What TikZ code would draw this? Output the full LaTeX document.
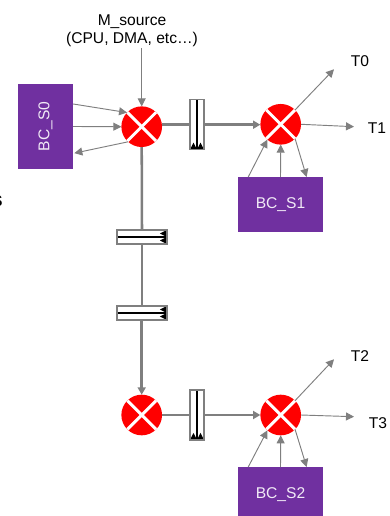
\documentclass[tikz,border=0pt]{standalone}
\usepackage{fontspec}
\setmainfont{Liberation Sans}
\usetikzlibrary{arrows.meta}
\definecolor{linegray}{HTML}{7F7F7F}
\definecolor{bcpurple}{HTML}{7030A0}
\definecolor{xred}{HTML}{FF0000}
\begin{document}
\begin{tikzpicture}[x=0.75pt,y=-0.75pt,
  every node/.style={font=\fontsize{11.7}{13.5}\selectfont,inner sep=0pt,outer sep=0pt},
  xnode/.style={circle,fill=xred,minimum size=30.5pt,
    path picture={
      \draw[white,line width=2.2pt] (path picture bounding box.north west) -- (path picture bounding box.south east);
      \draw[white,line width=2.2pt] (path picture bounding box.north east) -- (path picture bounding box.south west);
    }},
  bcbox/.style={fill=bcpurple,text=white!90!bcpurple,align=center},
  fifov/.style={rectangle,draw=linegray,line width=0.9pt,fill=white,minimum width=10.5pt,minimum height=37.5pt,
    path picture={
      \def\ppb{path picture bounding box}
      \draw[black,line width=0.9pt] (\ppb.north) -- (\ppb.south);
      \fill[black] ([xshift=-5.3pt]\ppb.south) -- ([xshift=-2.6pt,yshift=5.3pt]\ppb.south) -- (\ppb.south) -- ([xshift=2.6pt,yshift=5.3pt]\ppb.south) -- ([xshift=5.3pt]\ppb.south) -- cycle;
    }},
  fifoh/.style={rectangle,draw=linegray,line width=0.9pt,fill=white,minimum width=37.5pt,minimum height=10.5pt,
    path picture={
      \def\ppb{path picture bounding box}
      \draw[black,line width=0.9pt] (\ppb.west) -- (\ppb.east);
      \fill[black] ([yshift=-5.3pt]\ppb.east) -- ([xshift=-5.3pt,yshift=-2.6pt]\ppb.east) -- (\ppb.east) -- ([xshift=-5.3pt,yshift=2.6pt]\ppb.east) -- ([yshift=5.3pt]\ppb.east) -- cycle;
    }},
  thin link/.style={draw=linegray,line width=0.7pt,-{Triangle[length=6pt,width=6pt]}},
  thick link/.style={draw=linegray,line width=1.9pt},
  thick arrow/.style={thick link,-{Triangle[length=5.5pt,width=6pt]}}]
\useasboundingbox (0,0) rectangle (389,516);

% switches
\node[xnode] (c0) at (141.7,126.7) {};
\node[xnode] (c1) at (280.7,124.3) {};
\node[xnode] (c2) at (141.7,415) {};
\node[xnode] (c3) at (280.7,415) {};

% FIFOs
\node[fifov] (f0) at (197,124.7) {};
\node[fifov] (f3) at (197,415) {};
\node[fifoh] (f1) at (142,237) {};
\node[fifoh] (f2) at (142,313) {};

% masters and slaves
\node[bcbox,minimum width=41.25pt,minimum height=63.75pt] (bc0) at (45.5,126.5) {\rotatebox{90}{BC\_S0}};
\node[bcbox,minimum width=63.75pt,minimum height=41.25pt] (bc1) at (280.5,204.5) {BC\_S1};
\node[bcbox,minimum width=63.75pt,minimum height=41.25pt] (bc2) at (280.5,494.5) {BC\_S2};

% texts
\node[align=center] (src) at (132,31) {M\_source\\(CPU, DMA, etc…)};
\node (t0) at (360,60.7) {T0};
\node (t1) at (377,128) {T1};
\node (t2) at (360,356) {T2};
\node (t3) at (378,423) {T3};
\node[anchor=east,font=\fontsize{11.7}{13.5}\selectfont\bfseries] (cut) at (2.5,201) {S};

% free ends of outgoing links
\coordinate (t0end) at (334,69.3);
\coordinate (t1end) at (354,126.7);
\coordinate (t2end) at (334,359.3);
\coordinate (t3end) at (354,416.7);

% thick links
\draw[thick link] (c0.east |- f0.west) -- (f0.west);
\draw[thick arrow] (f0.east) -- (f0.east -| c1.west);
\draw[thick link] (c0.south) -- (f1.north);
\draw[thick link] (f1.south) -- (f2.north);
\draw[thick arrow] (f2.south) -- (f2.south -| c2.north) -- (c2.north);
\draw[thick link] (c2.east) -- (f3.west);
\draw[thick arrow] (f3.east) -- (c3.west);

% thin links
\draw[thin link] (c0.north |- src.south) ++(0,1) -- (c0.north);
\draw[thin link] ([yshift=16.9pt]bc0.east) -- (c0.136);
\draw[thin link] (bc0.east) -- (c0.west);
\draw[thin link] (c0.228) -- ([xshift=1pt,yshift=-20pt]bc0.east);

\draw[thin link] (c1.45) -- (t0end);
\draw[thin link] (c1.east) -- (t1end);
\draw[thin link] (c1.-45) -- ([xshift=19.6pt]bc1.north);
\draw[thin link] ([xshift=-24.2pt]bc1.north) -- (c1.229);
\draw[thin link] (bc1.north) -- (c1.south);

\draw[thin link] (c3.45) -- (t2end);
\draw[thin link] (c3.east) -- (t3end);
\draw[thin link] (c3.-45) -- ([xshift=19.6pt]bc2.north);
\draw[thin link] ([xshift=-24.2pt]bc2.north) -- (c3.229);
\draw[thin link] (bc2.north) -- (c3.south);
\end{tikzpicture}
\end{document}
